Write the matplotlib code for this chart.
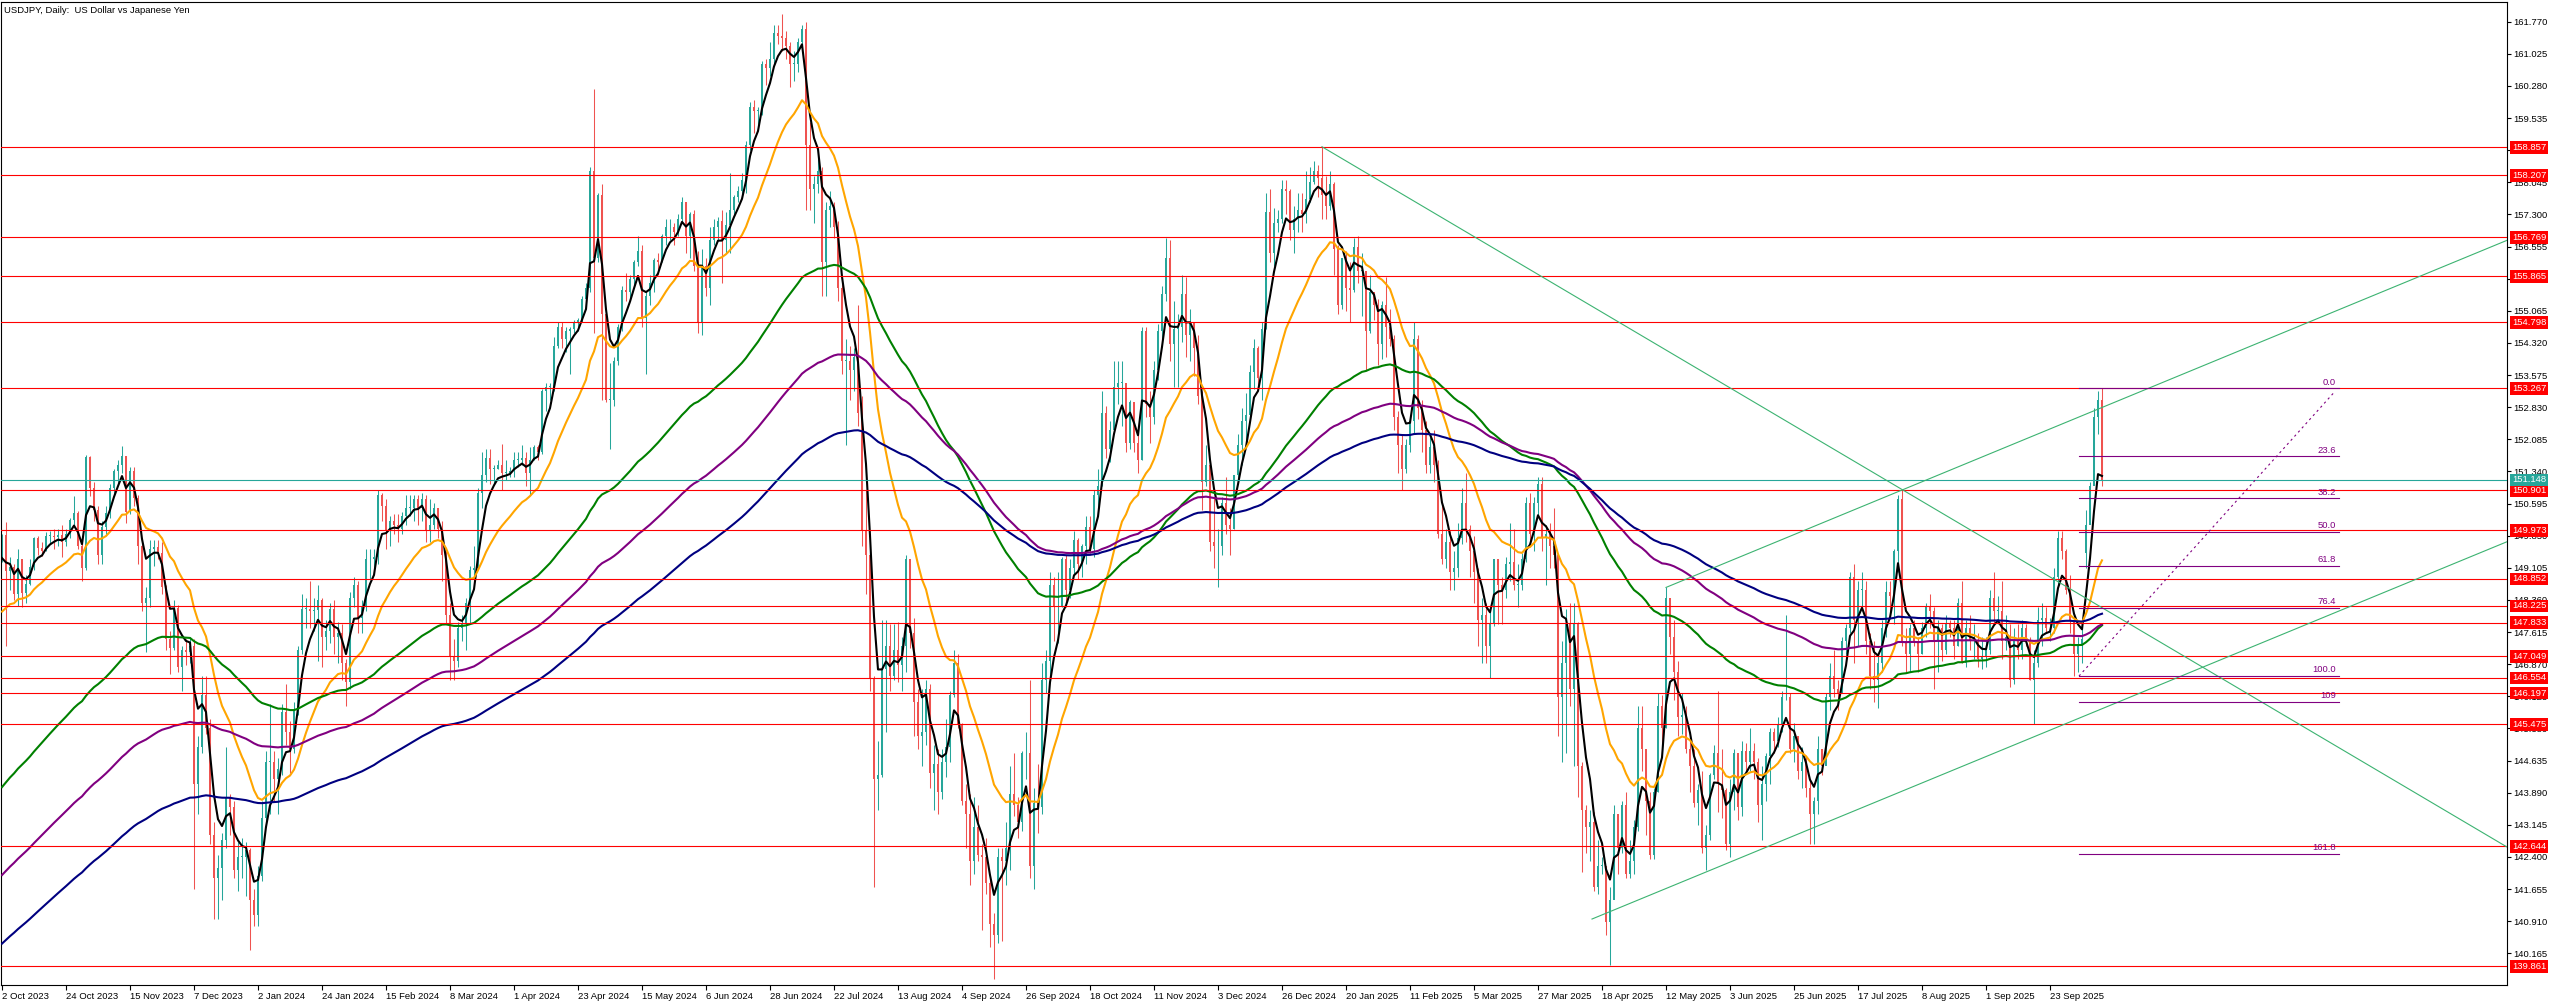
import numpy as np
import matplotlib
matplotlib.use("Agg")
import matplotlib.pyplot as plt
from matplotlib.transforms import blended_transform_factory

plt.rcParams['font.family'] = ['Liberation Sans', 'DejaVu Sans']

# USDJPY daily bars, 2 Oct 2023 .. 10 Oct 2025 (one line per month)
closes = [
    149.86, 149.03, 149.12, 148.50, 149.32, 148.52, 148.72, 149.13, 149.80, 149.57, 149.50, 149.85, 149.85, 149.83, 149.86, 149.71, 149.90, 150.22, 150.38, 149.62, 149.10, 151.67,
    150.95, 150.45, 149.40, 150.05, 150.38, 150.95, 151.35, 151.50, 151.70, 150.40, 151.35, 150.72, 149.60, 148.30, 148.40, 149.55, 149.58, 149.45, 148.65, 147.45, 147.25, 148.18,
    146.80, 147.20, 147.15, 147.30, 144.10, 144.95, 146.15, 145.40, 142.90, 141.90, 142.15, 142.80, 143.80, 143.55, 142.10, 142.40, 142.40, 142.55, 141.40, 141.05,
    141.95, 143.30, 144.60, 144.60, 144.20, 144.45, 145.75, 145.30, 144.90, 145.80, 147.20, 148.15, 148.15, 148.10, 148.12, 148.35, 147.50, 147.65, 148.15, 147.50, 147.60, 146.90,
    146.45, 148.40, 148.70, 147.95, 148.20, 149.30, 149.30, 149.35, 150.80, 150.55, 149.95, 150.20, 150.10, 150.00, 150.30, 150.50, 150.50, 150.70, 150.50, 150.70, 149.95,
    150.10, 150.50, 150.00, 149.40, 148.00, 147.05, 146.95, 147.70, 147.80, 148.30, 149.05, 149.10, 150.85, 151.25, 151.65, 151.40, 151.40, 151.50, 151.30, 151.30, 151.35,
    151.60, 151.60, 151.65, 151.30, 151.60, 151.90, 151.80, 153.20, 153.30, 153.30, 154.25, 154.70, 154.40, 154.60, 154.65, 154.80, 154.85, 155.35, 155.60, 158.30, 156.30, 157.75,
    155.00, 153.00, 153.00, 153.90, 154.70, 155.55, 155.50, 155.80, 156.20, 156.45, 154.90, 155.40, 155.70, 156.25, 156.20, 156.80, 157.00, 157.00, 156.90, 157.20, 157.60, 156.80, 157.30,
    156.10, 154.80, 156.10, 155.60, 156.70, 157.00, 157.15, 156.70, 157.05, 157.40, 157.70, 157.85, 158.10, 158.90, 159.80, 159.70, 159.70, 160.80, 160.70, 160.90,
    161.50, 161.45, 161.40, 161.20, 160.80, 160.80, 161.30, 161.60, 158.90, 157.90, 158.00, 158.30, 156.20, 157.40, 157.50, 157.00, 155.60, 153.90, 153.90, 153.70, 154.00, 152.70, 149.95,
    149.40, 146.55, 144.20, 144.30, 146.75, 147.30, 146.60, 147.20, 146.85, 147.30, 149.30, 147.60, 146.00, 145.20, 145.30, 146.30, 144.35, 144.55, 143.90, 144.60, 144.95, 146.15,
    146.90, 145.45, 143.70, 143.40, 142.30, 143.10, 142.45, 142.40, 141.80, 140.85, 140.60, 142.40, 142.30, 142.60, 143.85, 143.60, 143.20, 144.80, 144.80, 142.20, 143.65,
    143.55, 146.50, 146.95, 148.70, 148.20, 148.20, 149.30, 148.60, 149.10, 149.75, 149.20, 149.60, 150.05, 149.55, 150.80, 151.00, 152.70, 151.85, 152.30, 153.30, 153.40, 153.40, 152.00,
    152.95, 152.00, 151.60, 154.60, 152.90, 152.60, 153.70, 154.60, 155.45, 156.30, 154.30, 154.65, 154.70, 155.45, 154.50, 154.80, 154.20, 153.10, 151.10, 151.50, 149.70,
    149.60, 149.60, 150.60, 150.10, 150.00, 151.25, 151.95, 152.50, 152.65, 153.65, 154.20, 153.50, 154.65, 157.35, 156.40, 157.10, 157.20, 157.90, 157.85, 156.95, 157.20,
    157.40, 157.30, 157.65, 158.05, 158.30, 158.15, 157.75, 157.50, 158.00, 156.50, 155.20, 156.30, 155.60, 155.55, 156.55, 156.00, 156.00, 154.60, 155.50, 155.20, 154.30, 155.20,
    154.70, 154.40, 152.60, 151.95, 151.40, 151.95, 152.50, 154.40, 152.80, 152.30, 151.50, 151.90, 151.50, 149.90, 149.30, 149.70, 149.00, 149.10, 149.80, 150.60,
    150.00, 149.50, 149.00, 147.90, 148.00, 147.30, 147.80, 149.30, 148.70, 148.60, 149.20, 149.25, 148.70, 148.70, 149.30, 150.60, 149.90, 150.60, 151.05, 149.80, 149.90,
    149.60, 149.40, 146.10, 146.90, 147.80, 146.30, 147.80, 144.50, 143.50, 143.10, 143.20, 141.70, 142.20, 142.20, 140.90, 141.40, 143.40, 142.60, 143.60, 142.00, 142.30, 143.10,
    145.40, 144.90, 143.70, 142.45, 143.90, 145.90, 145.40, 148.40, 147.50, 146.70, 145.65, 145.70, 144.90, 144.50, 143.65, 143.95, 142.60, 142.90, 144.30, 144.80, 144.10, 143.95,
    142.70, 143.90, 144.80, 143.55, 144.85, 144.60, 144.85, 144.60, 143.60, 144.10, 144.75, 145.30, 145.10, 145.45, 146.10, 146.10, 144.90, 145.20, 144.40, 144.60, 144.00,
    143.40, 143.70, 144.90, 144.50, 146.10, 146.60, 146.30, 146.20, 147.40, 147.70, 148.90, 147.90, 148.60, 148.60, 147.40, 146.60, 146.50, 146.90, 147.70, 148.55, 148.45, 149.50, 150.70,
    147.40, 147.10, 147.70, 147.40, 147.10, 147.70, 148.20, 148.10, 147.40, 147.70, 147.20, 147.80, 147.70, 147.30, 148.30, 146.90, 147.70, 147.40, 147.40, 147.00, 147.05,
    147.20, 148.40, 148.10, 148.10, 147.40, 147.50, 146.50, 147.40, 147.20, 147.70, 147.40, 146.50, 146.90, 147.90, 147.95, 147.70, 147.70, 148.90, 149.80, 149.50, 148.60, 147.90,
    147.10, 147.30, 147.45, 150.10, 151.00, 152.60, 153.00, 151.15,
]

highs = [
    149.90, 150.16, 149.35, 149.20, 149.53, 149.22, 148.95, 149.30, 149.83, 149.84, 149.70, 149.93, 149.97, 150.00, 150.00, 150.10, 150.00, 150.26, 150.78, 150.42, 149.75, 151.72,
    151.70, 151.10, 150.55, 150.20, 150.55, 151.05, 151.40, 151.60, 151.92, 151.70, 151.44, 151.45, 150.80, 149.80, 148.65, 149.75, 149.75, 149.75, 149.70, 148.70, 147.65, 148.35,
    148.25, 147.30, 147.45, 147.50, 147.45, 145.20, 146.60, 146.60, 145.60, 143.20, 142.45, 142.95, 144.95, 143.85, 143.70, 142.75, 142.85, 142.75, 142.60, 141.65,
    142.20, 143.70, 144.85, 145.95, 144.85, 144.70, 145.95, 146.40, 145.55, 146.00, 147.30, 148.50, 148.40, 148.80, 148.40, 148.70, 148.40, 147.90, 148.30, 148.35, 147.85, 147.80,
    147.00, 148.55, 148.90, 148.80, 148.35, 149.55, 149.55, 149.55, 150.90, 150.85, 150.70, 150.30, 150.35, 150.35, 150.40, 150.80, 150.80, 150.80, 150.80, 150.85, 150.80,
    150.70, 150.60, 150.50, 150.20, 149.50, 148.30, 147.45, 147.85, 148.00, 148.40, 149.15, 149.60, 150.95, 151.80, 151.85, 151.85, 151.50, 151.60, 151.97, 151.60, 151.45,
    151.80, 151.80, 151.95, 151.80, 151.90, 151.95, 151.95, 153.25, 153.40, 153.40, 154.45, 154.80, 154.80, 154.70, 154.70, 154.85, 154.90, 155.40, 155.70, 158.40, 160.20, 157.80,
    158.00, 155.00, 153.85, 154.00, 154.75, 155.65, 155.95, 155.90, 156.25, 156.80, 156.60, 155.50, 155.90, 156.30, 156.40, 156.85, 157.20, 157.20, 157.10, 157.30, 157.70, 157.60, 157.35,
    157.40, 156.45, 156.50, 156.30, 157.00, 157.20, 157.25, 157.40, 157.35, 158.25, 157.75, 157.95, 158.25, 159.00, 159.90, 159.95, 159.80, 160.85, 160.90, 161.30,
    161.70, 161.70, 161.95, 161.55, 161.30, 161.10, 161.40, 161.70, 161.76, 159.45, 158.20, 158.85, 158.40, 157.60, 157.85, 157.60, 157.15, 155.80, 154.40, 154.25, 154.20, 155.20, 153.10,
    150.90, 149.60, 146.60, 145.10, 147.90, 147.90, 147.80, 147.80, 147.85, 147.50, 149.40, 149.20, 147.95, 146.30, 146.30, 146.50, 146.40, 145.00, 144.90, 144.90, 145.60, 146.25,
    147.20, 147.10, 145.50, 144.10, 143.85, 143.80, 143.60, 142.70, 142.85, 141.95, 141.10, 142.60, 142.60, 143.20, 144.50, 144.80, 143.80, 144.85, 145.30, 146.50, 144.00,
    144.55, 146.90, 147.20, 149.00, 148.90, 149.00, 149.35, 149.40, 149.30, 149.95, 149.80, 149.65, 150.30, 150.30, 150.90, 151.40, 153.20, 152.85, 152.50, 153.90, 153.90, 153.90, 153.10,
    153.00, 152.70, 152.35, 154.70, 154.70, 153.20, 153.90, 154.75, 155.65, 156.75, 156.70, 155.30, 155.00, 155.90, 155.85, 155.10, 154.80, 154.50, 153.20, 151.95, 151.60,
    150.75, 150.00, 150.75, 151.20, 150.50, 151.25, 152.20, 152.80, 153.15, 153.80, 154.40, 154.25, 154.80, 157.80, 157.90, 157.45, 157.40, 158.10, 158.10, 157.90, 157.50,
    157.80, 157.80, 158.30, 158.40, 158.55, 158.45, 158.87, 158.20, 158.30, 158.05, 156.60, 156.30, 156.45, 156.20, 156.75, 156.80, 156.40, 156.00, 155.90, 155.45, 155.35, 155.30,
    155.85, 155.10, 154.50, 152.75, 152.20, 152.10, 152.60, 154.80, 154.50, 153.00, 152.50, 152.15, 152.30, 151.60, 150.60, 150.00, 149.95, 149.50, 150.15, 150.95,
    151.30, 150.10, 149.85, 149.10, 148.40, 148.30, 148.10, 149.20, 149.30, 148.90, 149.35, 150.15, 150.00, 149.20, 149.45, 150.75, 150.85, 150.75, 151.20, 151.20, 150.10,
    150.15, 150.50, 149.30, 147.40, 148.15, 148.30, 148.30, 147.85, 144.60, 143.60, 143.50, 143.45, 142.80, 142.40, 142.20, 141.70, 143.60, 143.25, 143.70, 143.90, 142.80, 143.25,
    145.90, 145.90, 144.80, 143.90, 144.00, 146.20, 146.15, 148.65, 148.30, 147.90, 146.95, 146.20, 145.90, 145.15, 144.90, 144.10, 144.40, 143.15, 144.35, 145.00, 146.25, 144.90,
    144.00, 144.20, 144.90, 144.70, 145.10, 145.05, 145.40, 145.05, 144.70, 144.50, 144.80, 145.40, 145.40, 145.65, 146.25, 148.00, 146.20, 145.50, 145.20, 144.95, 144.75,
    144.20, 143.80, 145.20, 144.90, 146.20, 146.90, 147.20, 146.50, 147.50, 147.80, 149.00, 149.20, 148.80, 149.00, 148.80, 147.60, 147.40, 147.10, 147.90, 148.80, 148.80, 149.55, 150.80,
    150.91, 147.70, 147.80, 147.90, 147.50, 147.85, 148.30, 148.50, 148.20, 147.90, 147.80, 148.00, 147.90, 147.90, 148.40, 148.80, 147.90, 148.00, 147.80, 147.60, 147.50,
    147.50, 148.60, 149.00, 148.45, 148.80, 148.00, 147.80, 147.70, 147.80, 147.90, 147.80, 147.50, 147.20, 148.20, 148.30, 148.20, 147.95, 149.10, 149.95, 149.95, 149.55, 148.95,
    148.00, 147.50, 147.80, 150.45, 151.10, 152.80, 153.20, 153.27,
]

lows = [
    149.25, 147.30, 148.60, 148.35, 148.23, 148.20, 148.30, 148.70, 149.05, 149.40, 149.38, 149.50, 149.65, 149.55, 149.60, 149.35, 149.60, 149.80, 150.10, 149.55, 148.80, 149.05,
    150.78, 150.20, 149.20, 149.20, 149.90, 150.25, 150.80, 151.05, 151.30, 150.15, 150.35, 150.55, 149.20, 148.10, 147.15, 148.20, 149.15, 149.30, 148.50, 147.20, 146.65, 147.20,
    146.70, 146.25, 146.85, 146.90, 141.65, 143.40, 144.80, 145.25, 142.70, 140.95, 140.95, 141.40, 142.60, 142.90, 141.90, 141.60, 141.90, 141.50, 140.25, 140.80,
    140.80, 141.85, 143.10, 143.40, 143.70, 143.40, 144.30, 145.00, 144.35, 144.80, 145.70, 147.10, 147.70, 147.70, 147.65, 146.95, 146.80, 147.20, 147.35, 147.10, 146.90, 146.50,
    145.90, 146.30, 148.20, 147.60, 147.60, 148.10, 148.85, 149.00, 149.20, 150.20, 149.55, 149.60, 149.90, 149.70, 149.90, 150.10, 150.30, 150.20, 150.10, 150.20, 149.70,
    149.70, 150.00, 149.80, 148.80, 147.80, 146.50, 146.50, 146.80, 147.40, 147.20, 147.80, 148.90, 149.20, 150.50, 151.10, 151.05, 151.05, 151.40, 150.90, 151.15, 151.20,
    151.20, 151.45, 151.50, 151.00, 150.80, 151.60, 151.60, 151.75, 152.75, 153.00, 153.20, 154.20, 154.20, 154.10, 153.60, 154.55, 154.60, 154.80, 155.10, 155.50, 154.55, 156.20,
    153.00, 152.95, 151.85, 152.85, 153.80, 154.60, 155.30, 155.30, 155.60, 156.10, 154.70, 153.60, 155.20, 155.50, 155.90, 156.20, 156.60, 156.70, 156.60, 156.80, 157.10, 156.40, 156.30,
    156.00, 154.55, 154.50, 155.40, 155.20, 156.60, 156.70, 155.70, 156.40, 156.40, 157.30, 157.60, 157.70, 157.80, 158.80, 159.20, 159.35, 159.60, 160.30, 160.50,
    160.80, 161.25, 161.10, 160.90, 160.25, 160.40, 160.60, 161.25, 157.40, 157.40, 157.10, 157.80, 155.40, 155.40, 157.00, 156.75, 155.30, 153.60, 151.95, 153.00, 153.20, 152.40, 149.60,
    148.50, 146.25, 141.70, 143.50, 144.25, 145.30, 146.25, 146.50, 146.45, 146.25, 146.70, 147.25, 145.20, 144.90, 144.50, 145.00, 144.00, 143.50, 143.40, 143.75, 144.25, 144.60,
    146.10, 145.40, 143.60, 142.60, 141.75, 142.00, 142.30, 140.70, 141.55, 140.30, 139.58, 140.40, 140.45, 141.75, 142.10, 143.35, 142.85, 143.00, 144.20, 141.90, 141.65,
    142.95, 143.40, 146.20, 146.50, 147.40, 147.35, 148.20, 148.20, 148.40, 148.95, 148.85, 148.90, 149.20, 149.45, 149.35, 150.30, 151.00, 151.65, 151.55, 152.35, 152.90, 152.40, 151.80,
    151.85, 151.80, 151.30, 151.60, 152.60, 152.00, 152.45, 153.45, 154.40, 155.30, 153.90, 153.30, 153.30, 154.35, 154.00, 153.90, 153.55, 152.90, 150.45, 151.00, 149.50,
    149.10, 148.65, 149.40, 149.90, 149.40, 150.00, 151.05, 151.50, 152.00, 152.55, 153.25, 153.30, 153.00, 154.65, 156.20, 156.10, 156.90, 157.10, 157.30, 156.70, 156.40,
    156.90, 156.90, 157.10, 157.60, 158.00, 157.70, 157.20, 157.20, 157.40, 155.90, 155.00, 155.10, 155.05, 154.80, 155.50, 155.70, 154.95, 153.70, 154.55, 154.85, 153.80, 153.95,
    154.00, 154.25, 152.30, 151.30, 150.90, 151.30, 151.80, 152.20, 152.55, 151.80, 151.30, 151.30, 151.10, 149.80, 149.20, 149.10, 148.60, 148.60, 148.90, 149.65,
    149.70, 148.90, 148.30, 147.30, 146.90, 146.90, 146.54, 147.75, 147.80, 147.80, 148.40, 148.80, 148.60, 148.20, 148.60, 149.25, 149.60, 149.50, 150.30, 149.50, 148.70,
    149.10, 149.10, 145.20, 144.60, 144.80, 145.90, 144.50, 143.80, 142.05, 142.50, 142.30, 141.60, 141.55, 142.00, 140.60, 139.89, 141.50, 142.00, 142.50, 141.90, 141.90, 142.00,
    143.00, 144.40, 142.90, 142.35, 142.35, 143.90, 145.00, 145.40, 147.10, 146.05, 145.20, 145.25, 144.80, 143.90, 143.55, 143.15, 142.50, 142.10, 142.80, 144.20, 143.45, 143.30,
    142.55, 142.40, 143.50, 143.25, 143.35, 144.40, 144.40, 144.20, 143.20, 142.80, 143.70, 144.10, 144.80, 144.95, 145.30, 146.05, 144.80, 144.60, 144.20, 144.00, 143.80,
    142.70, 142.70, 143.40, 144.30, 144.80, 145.80, 146.10, 145.80, 146.20, 147.10, 147.60, 146.90, 147.30, 148.20, 147.10, 146.30, 146.00, 145.85, 146.70, 147.50, 148.00, 147.80, 149.00,
    147.30, 146.70, 146.70, 147.30, 146.70, 147.10, 147.50, 147.70, 146.30, 146.70, 146.95, 147.10, 147.50, 147.00, 147.30, 146.90, 146.80, 147.20, 147.00, 146.80, 146.75,
    146.80, 147.10, 147.80, 147.80, 147.00, 147.20, 146.35, 146.40, 147.00, 147.00, 147.30, 146.50, 145.48, 146.80, 147.30, 147.60, 147.40, 147.60, 148.70, 149.30, 148.50, 147.60,
    146.59, 146.70, 146.90, 149.10, 150.20, 151.40, 152.20, 151.00,
]

first_open = 149.35
gap_opens = {521: 149.45}  # Monday 6 Oct 2025 opened with a gap

date_labels = ['2 Oct 2023', '24 Oct 2023', '15 Nov 2023', '7 Dec 2023', '2 Jan 2024', '24 Jan 2024',
               '15 Feb 2024', '8 Mar 2024', '1 Apr 2024', '23 Apr 2024', '15 May 2024', '6 Jun 2024',
               '28 Jun 2024', '22 Jul 2024', '13 Aug 2024', '4 Sep 2024', '26 Sep 2024', '18 Oct 2024',
               '11 Nov 2024', '3 Dec 2024', '26 Dec 2024', '20 Jan 2025', '11 Feb 2025', '5 Mar 2025',
               '27 Mar 2025', '18 Apr 2025', '12 May 2025', '3 Jun 2025', '25 Jun 2025', '17 Jul 2025',
               '8 Aug 2025', '1 Sep 2025', '23 Sep 2025']

price_ticks = ['140.165', '140.910', '141.655', '142.400', '143.145', '143.890', '144.635', '145.380',
               '146.125', '146.870', '147.615', '148.360', '149.105', '149.850', '150.595', '151.340',
               '152.085', '152.830', '153.575', '154.320', '155.065', '155.810', '156.555', '157.300',
               '158.045', '158.790', '159.535', '160.280', '161.025', '161.770']

# moving averages (EMA), value at the first bar
ma_periods = [5, 21, 89, 144, 200]
ma_start = [149.33, 148.09, 144.02, 141.98, 140.39]
ma_colors = ['black', '#FFA500', '#008000', '#800080', '#000080']

red_levels = [158.857, 158.207, 156.769, 155.865, 154.798, 153.267, 150.901, 149.973, 148.852,
              148.225, 147.833, 147.049, 146.554, 146.197, 145.475, 142.644, 139.861]
bid = 151.148

fib_high, fib_low = 153.267, 146.595
fib_levels = [0.0, 23.6, 38.2, 50.0, 61.8, 76.4, 100.0, 109.0, 161.8]
fib_labels = ['0.0', '23.6', '38.2', '50.0', '61.8', '76.4', '100.0', '109', '161.8']
fib_x = (519.25, 584.25)

# trend lines: (bar0, price0, bar1, price1)
trend_lines = [
    (330, 158.87, 626.25, 142.63),
    (416, 148.65, 626.25, 156.70),
    (397.5, 140.96, 626.25, 149.71),
]

bull, bear = '#26A69A', '#EF5350'

c = np.array(closes)
h = np.array(highs)
l = np.array(lows)
o = np.r_[first_open, c[:-1]]
for k, v in gap_opens.items():
    o[k] = v
x = np.arange(len(c))

fig = plt.figure(figsize=(25.6, 10.06), dpi=100)
W, H = 2560, 1006
ax = fig.add_axes([1 / W, (H - 985) / H, 2506 / W, 983 / H])
ax.set_xlim(-0.25, 626.25)
ax.set_ylim(139.43, 162.227)

# candles
col = np.where(c >= o, bull, bear)
ax.vlines(x, l, h, colors=col, lw=0.75, zorder=2)
ax.bar(x, np.maximum(np.abs(c - o), 0.02), bottom=np.minimum(o, c), width=0.72,
       color=col, lw=0, zorder=2)

# moving averages
for p, s, cl in zip(ma_periods, ma_start, ma_colors):
    a = 2.0 / (p + 1)
    ema = np.empty(len(c))
    ema[0] = s
    for i in range(1, len(c)):
        ema[i] = ema[i - 1] + a * (c[i] - ema[i - 1])
    ax.plot(x, ema, color=cl, lw=1.5, zorder=3)

# horizontal levels
for lv in red_levels:
    ax.axhline(lv, color='#FF0000', lw=0.8, zorder=4)
ax.axhline(bid, color='#26A69A', lw=0.8, zorder=4)

# trend lines
for x0, y0, x1, y1 in trend_lines:
    ax.plot([x0, x1], [y0, y1], color='#3CB371', lw=0.8, zorder=4)

# fibonacci
rng = fib_high - fib_low
for lv, lab in zip(fib_levels, fib_labels):
    yv = fib_high - lv / 100 * rng
    ax.plot(fib_x, [yv, yv], color='#800080', lw=0.8, zorder=5)
    ax.text(fib_x[1] - 0.8, yv + 0.04, lab, color='#800080', fontsize=6.8,
            ha='right', va='bottom', zorder=6)
ax.plot([fib_x[0], fib_x[1] - 1], [fib_low, fib_high - 0.07], color='#800080', lw=0.8,
        ls=(0, (2, 3)), zorder=5)

# axes styling
for sp in ax.spines.values():
    sp.set_color('black')
    sp.set_linewidth(0.8)
ax.yaxis.tick_right()
ax.set_yticks([float(t) for t in price_ticks])
ax.set_yticklabels(price_ticks)
ax.tick_params(axis='y', direction='out', length=3, pad=1.5, labelsize=6.8, width=0.8)
ax.set_xticks(np.arange(len(date_labels)) * 16)
ax.set_xticklabels(date_labels, ha='left')
ax.tick_params(axis='x', direction='out', length=3.5, pad=1.5, labelsize=6.8, width=0.8)
for t in ax.get_xticklabels():
    t.set_x(0)

# price labels on the right scale
tr = blended_transform_factory(fig.transFigure, ax.transData)
for lv in red_levels:
    ax.text(2512 / W, lv, f'{lv:.3f}', transform=tr, color='white', fontsize=6.8,
            ha='left', va='center', clip_on=False, zorder=10,
            bbox=dict(boxstyle='square,pad=0.18', fc='#FF0000', ec='none'))
ax.text(2512 / W, bid, f'{bid:.3f}', transform=tr, color='white', fontsize=6.8,
        ha='left', va='center', clip_on=False, zorder=10,
        bbox=dict(boxstyle='square,pad=0.18', fc='#26A69A', ec='none'))

ax.text(0.0012, 1 - 8.5 / 983, 'USDJPY, Daily:  US Dollar vs Japanese Yen',
        transform=ax.transAxes, fontsize=6.8, ha='left', va='center', zorder=10)

fig.savefig('out.png', dpi=100, facecolor='white')
